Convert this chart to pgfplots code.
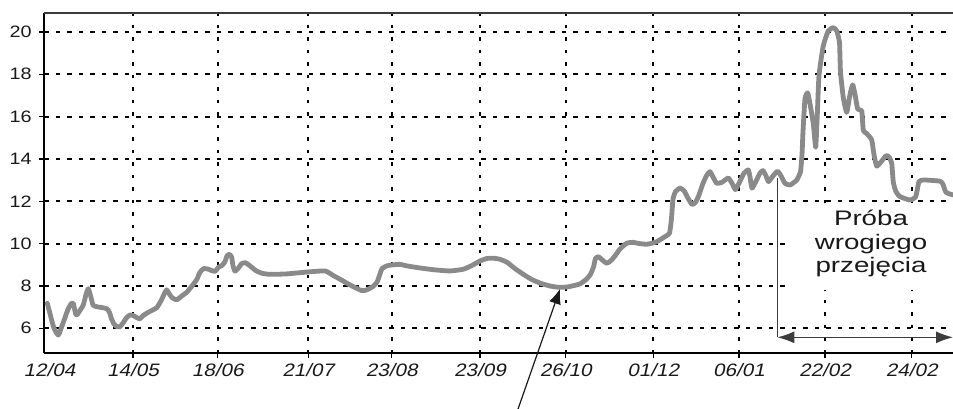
\documentclass[border=0pt]{standalone}
\usepackage{pgfplots}
\pgfplotsset{compat=1.18}
\usepackage{fontspec}
\setmainfont{Liberation Sans}
\newfontfamily\yfont{Liberation Sans}[FakeStretch=1.2]
\newfontfamily\xfont{Liberation Sans}[FakeStretch=1.15, FakeSlant=0.21]
\newfontfamily\annfont{Liberation Sans}[FakeStretch=1.32]
\usetikzlibrary{arrows.meta}
\definecolor{curve}{RGB}{138,138,138}
\definecolor{txt}{RGB}{25,25,25}
\definecolor{brk}{RGB}{60,60,60}
\pgfplotstableread{
x y
47.3 7.18
50.5 6.6
54 6.0
58.3 5.68
61.5 6.05
65 6.5
68 6.9
71 7.15
73.3 7.18
75.5 6.7
77 6.63
80 6.85
83.3 7.1
86 7.6
88.3 7.87
90.5 7.55
93 7.1
96.7 7.02
102 6.98
107 6.92
109.5 6.75
111.5 6.45
114 6.2
117 6.08
120 6.08
123 6.25
126.5 6.5
130 6.63
133.3 6.6
137 6.5
140 6.45
143 6.6
147 6.72
152 6.85
156.7 6.97
161 7.3
164.5 7.65
166.7 7.82
169 7.65
172 7.45
176.7 7.34
181 7.5
186.7 7.7
192 8.0
196.7 8.3
200 8.65
203.5 8.82
208 8.8
212 8.72
215.5 8.7
218.3 8.88
222 8.97
225 9.15
227 9.42
229.5 9.5
231.7 9.35
233 8.95
235 8.7
238.3 8.84
241.5 9.05
245.5 9.1
250 8.95
256 8.72
262 8.6
270 8.55
286.7 8.57
305 8.65
325 8.71
333 8.5
340 8.32
350 8.05
361.7 7.78
367 7.82
373 7.98
377 8.18
379.5 8.5
382 8.82
386.7 8.95
393 9.0
400 9.02
406.7 8.95
420 8.85
435 8.76
450 8.71
463.3 8.79
472 8.97
480 9.18
487 9.3
494 9.31
500 9.26
507 9.12
515 8.82
523.3 8.55
532 8.3
541 8.12
550 8.0
558 7.94
566.7 7.95
574 8.02
580 8.1
586 8.3
590.5 8.55
593.5 8.9
595.5 9.3
598.5 9.38
602.5 9.22
606.7 9.07
611 9.2
615 9.42
620 9.75
626.7 10.02
633 10.06
640 10.0
646.7 9.97
652 10.02
657 10.1
664 10.3
669.5 10.5
671.5 11.2
673 12.1
675.5 12.46
680 12.62
684 12.5
688 12.15
692 11.85
695.5 11.95
699 12.3
703 12.85
707 13.25
710 13.4
713 13.15
716.7 12.85
722 12.9
728.3 13.1
732 12.85
735.5 12.55
740 12.95
744 13.33
748.3 13.48
750 13.15
752 12.62
756 12.95
760 13.33
763 13.45
766 13.2
768.5 12.93
773 13.2
777.5 13.42
781 13.2
785 12.85
790 12.77
796.7 13.0
800.5 13.4
802 14.2
803 15.3
805 16.85
807.7 17.12
810 16.6
813.3 15.66
815.7 14.55
817.3 16.1
819 17.95
823.3 19.35
828.3 20.05
833.3 20.2
836.7 20.05
839.5 19.5
840.5 18.1
843.3 16.9
846.7 16.2
850 17.05
852.7 17.5
855 17.05
857.7 16.35
861.7 16.28
863.3 15.35
866.7 15.2
871.7 14.9
874 14.2
876.7 13.66
881.7 13.9
886 14.15
889 14.1
891.7 13.8
893.3 12.9
896 12.45
900 12.22
910 12.06
915.5 12.2
917.5 12.6
919 12.93
923.3 13.01
940 12.95
943 12.8
946 12.42
953 12.3
}\pricedata
\begin{document}
\begin{tikzpicture}
\path[use as bounding box] (-44.3pt,-55.7pt) rectangle (908.7pt,353.3pt);
\begin{axis}[
 at={(0pt,0pt)}, anchor=south west,
 scale only axis, width=908.7pt, height=340pt,
 xmin=44.3, xmax=953, ymin=4.82, ymax=20.88,
 axis lines=left, axis line style={-, line width=1.8pt, black},
 clip=false,
 xtick={133,217.7,308.3,391.7,480,565.7,653.3,739,825,911.7},
 xticklabels={14/05,18/06,21/07,23/08,23/09,26/10,01/12,06/01,22/02,24/02},
 extra x ticks={49.5}, extra x tick labels={12/04},
 extra x tick style={grid=none, tick style={draw=none}},
 ytick={6,8,...,20},
 tick align=outside, major tick length=5pt,
 tick style={line width=1.5pt, black},
 xmajorgrids, ymajorgrids,
 x grid style={black, line width=2.2pt, dash pattern=on 3.5pt off 9pt},
 y grid style={black, line width=2pt, dash pattern=on 4.5pt off 7pt},
 xticklabel style={font=\xfont\fontsize{18}{20}\selectfont, text=txt, anchor=base, yshift=-18.5pt},
 yticklabel style={font=\yfont\fontsize{16.5}{18}\selectfont, text=txt, anchor=east, inner sep=0pt, xshift=-7.5pt},
 /pgf/number format/assume math mode=true,
]
\fill[white] (axis cs:791,11.87) rectangle (axis cs:953,7.81);
\addplot[color=curve, line width=4.8pt, line join=round, line cap=round, smooth, tension=0.3] table[x=x,y=y] {\pricedata};
\draw[line width=1.6pt, color=brk] (rel axis cs:0,1) -- (rel axis cs:1,1);
\draw[line width=1.2pt, txt, -{Latex[length=15pt,width=12pt]}] (axis cs:515.9,1.9) -- (axis cs:560,7.86);
\draw[line width=1.3pt, brk] (axis cs:777.3,13.09) -- (axis cs:777.3,5.575);
\draw[line width=1.3pt, brk, {Latex[length=17pt,width=12pt]}-{Latex[length=17pt,width=12pt]}] (axis cs:777.3,5.575) -- (axis cs:953,5.575);
\node[font=\annfont\fontsize{21}{23.5}\selectfont, align=center, text=txt, inner sep=0pt] at (axis cs:871,10.0) {Próba\\wrogiego\\przejęcia};
\end{axis}
\end{tikzpicture}
\end{document}
